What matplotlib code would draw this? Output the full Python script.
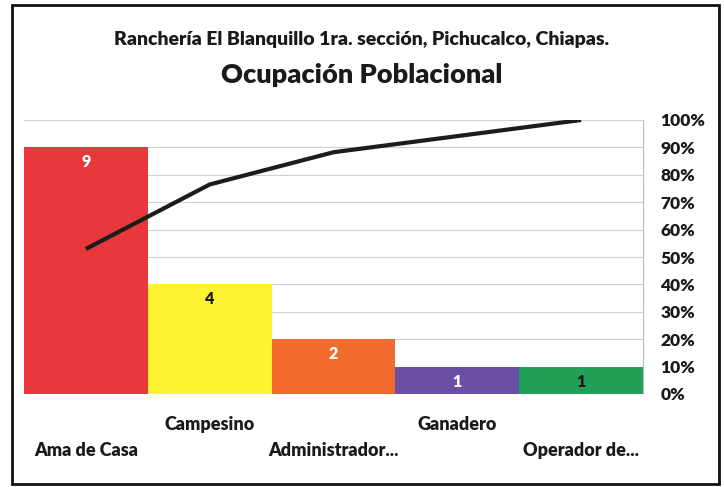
import numpy as np
import matplotlib.pyplot as plt
from matplotlib.patches import Rectangle
from matplotlib.transforms import blended_transform_factory

plt.rcParams['font.family'] = ['Lato', 'DejaVu Sans']
plt.rcParams['font.weight'] = 'heavy'

# datos de ocupación
ocupaciones = ['Ama de Casa', 'Campesino', 'Administrador...', 'Ganadero', 'Operador de...']
personas = [9, 4, 2, 1, 1]
colores = ['#e8383b', '#fdf332', '#f26a2e', '#6b4fa6', '#23a058']
color_etiqueta = ['white', '#1a1a1a', 'white', 'white', '#1a1a1a']
porcentajes = ['0%', '10%', '20%', '30%', '40%', '50%', '60%', '70%', '80%', '90%', '100%']

acumulado = np.cumsum(personas) / np.sum(personas)
x = np.arange(len(personas))

fig = plt.figure(figsize=(7.24, 4.87), dpi=100)
fig.patch.set_facecolor('white')

# marco exterior
fig.patches.append(Rectangle((12 / 724, 3 / 487), 707 / 724, 479 / 487,
                             transform=fig.transFigure, fill=False,
                             edgecolor='#111111', linewidth=2))

ax = fig.add_axes([24 / 724, 1 - 394 / 487, 619 / 724, 274 / 487])
ax.bar(x, personas, width=1.0, color=colores, edgecolor='none', zorder=2)
ax.set_xlim(-0.5, len(personas) - 0.5)
ax.set_ylim(0, 10)
ax.set_yticks(np.arange(0, 11, 1))
ax.yaxis.grid(True, color='#cfcfcf', linewidth=0.8, zorder=0)
ax.set_axisbelow(True)
for s in ['left', 'top', 'bottom']:
    ax.spines[s].set_visible(False)
ax.spines['right'].set_color('#bdbdbd')
ax.spines['right'].set_linewidth(0.8)

for xi, v, c in zip(x, personas, color_etiqueta):
    ax.text(xi, v - 0.55, str(v), ha='center', va='center',
            fontsize=11.5, fontweight='heavy', color=c, zorder=3)

# etiquetas escalonadas de categorías
trans = blended_transform_factory(ax.transData, ax.transAxes)
for i, nombre in enumerate(ocupaciones):
    yy = -0.113 if i % 2 == 1 else -0.207
    ax.text(i, yy, nombre, transform=trans, ha='center', va='center',
            fontsize=13, fontweight='heavy', color='#1a1a1a')

ax2 = ax.twinx()
ax2.plot(x, acumulado, color='#1c1c1c', linewidth=3, solid_capstyle='butt')
ax2.set_ylim(0, 1)
ax2.set_yticks(np.linspace(0, 1, 11))
ax2.set_yticklabels(porcentajes)
ax2.tick_params(right=False, pad=9, labelsize=12.5)
for lbl in ax2.get_yticklabels():
    lbl.set_fontweight('heavy')
    lbl.set_color('#1a1a1a')
for s in ax2.spines.values():
    s.set_visible(False)

# twinx vuelve a activar las marcas de la izquierda
ax.tick_params(left=False, labelleft=False, bottom=False, labelbottom=False)

fig.text(0.5, 1 - 40 / 487, 'Ranchería El Blanquillo 1ra. sección, Pichucalco, Chiapas.',
         ha='center', va='center', fontsize=14, fontweight='heavy', color='#1a1a1a')
fig.text(0.5, 1 - 75 / 487, 'Ocupación Poblacional',
         ha='center', va='center', fontsize=19.5, fontweight='heavy', color='#1a1a1a')

fig.savefig('out.png', dpi=100)
